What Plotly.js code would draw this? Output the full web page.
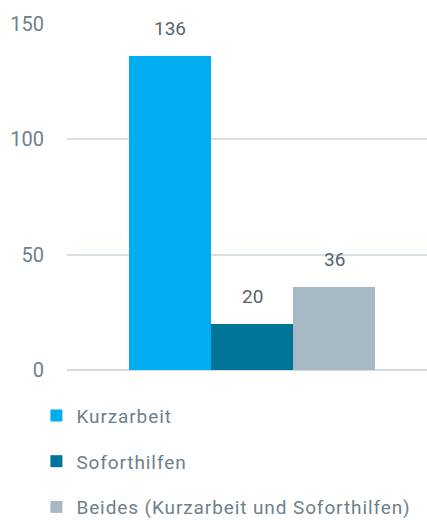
<!DOCTYPE html>
<html>
<head>
<meta charset="utf-8">
<script src="https://cdn.plot.ly/plotly-3.0.1.min.js"></script>
<style>
html,body{margin:0;padding:0;background:#fff;}
#chart{width:427px;height:520px;}
#chart .legendtext{letter-spacing:0.9px;}
#chart .legend .scrollbox{clip-path:none !important;}
#chart .legend{clip-path:none !important;}
</style>
</head>
<body>
<div id="chart"></div>
<script>
const seriesNames = ["Kurzarbeit", "Soforthilfen", "Beides (Kurzarbeit und Soforthilfen)"];
const seriesValues = [136, 20, 36];
const seriesColors = ["#00aeef", "#007399", "#a6b8c3"];
const yTicks = [0, 50, 100, 150];

const FONT = "Roboto, 'Open Sans', sans-serif";

const traces = seriesNames.map((name, i) => ({
  type: "bar",
  name: name,
  x: [name],
  y: [seriesValues[i]],
  marker: {color: seriesColors[i]},
  legendgroup: "g" + i,
  hoverinfo: "none"
}));

const annotations = seriesNames.map((name, i) => ({
  x: name,
  y: seriesValues[i],
  xref: "x",
  yref: "y",
  text: String(seriesValues[i]),
  showarrow: false,
  yanchor: "bottom",
  yshift: 14,
  font: {family: FONT, size: 19, color: "#56636d"}
}));

const layout = {
  width: 427,
  height: 520,
  margin: {l: 67, r: 0, t: 24, b: 150, autoexpand: false},
  paper_bgcolor: "#ffffff",
  plot_bgcolor: "#ffffff",
  barmode: "overlay",
  bargap: 0,
  showlegend: true,
  font: {family: FONT, size: 19, color: "#6e808c"},
  xaxis: {
    type: "category",
    categoryorder: "array",
    categoryarray: seriesNames,
    range: [-1.256, 3.134],
    showticklabels: false,
    showgrid: false,
    zeroline: false,
    showline: false,
    ticks: "",
    fixedrange: true
  },
  yaxis: {
    range: [0, 150],
    tickvals: yTicks,
    ticktext: yTicks.map(String),
    showgrid: true,
    gridcolor: "#d8e0e5",
    gridwidth: 2,
    zeroline: true,
    zerolinecolor: "#d3dbe0",
    zerolinewidth: 2,
    showline: false,
    ticks: "",
    ticklabelstandoff: 22,
    tickfont: {family: FONT, size: 20, color: "#6e808c"},
    fixedrange: true
  },
  legend: {
    orientation: "v",
    x: -0.085,
    xanchor: "left",
    y: -0.077,
    yanchor: "top",
    traceorder: "grouped",
    tracegroupgap: 18,
    font: {family: FONT, size: 19, color: "#6e808c"},
    bgcolor: "rgba(0,0,0,0)"
  },
  annotations: annotations
};

Plotly.newPlot("chart", traces, layout, {displayModeBar: false, staticPlot: true});
</script>
</body>
</html>
